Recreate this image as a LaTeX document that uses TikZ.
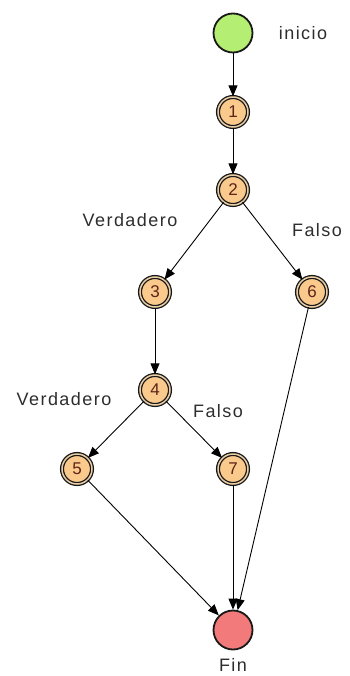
\documentclass[tikz,border=0pt]{standalone}
\usepackage{fontspec}
\setmainfont{Liberation Sans}
\newfontfamily\lblfont[LetterSpace=8]{Liberation Sans}
\usetikzlibrary{arrows.meta}

\definecolor{nodeorange}{RGB}{250,201,140}
\definecolor{ringtan}{RGB}{232,205,165}
\definecolor{startgreen}{RGB}{180,238,115}
\definecolor{endred}{RGB}{242,122,122}
\definecolor{txtgray}{RGB}{45,45,45}
\definecolor{numbrown}{RGB}{95,35,25}

\tikzset{stepnode/.style = {circle, draw=black!90, line width=1.3pt, double=ringtan, double distance=1.5pt,
                            fill=nodeorange, minimum size=30pt, inner sep=0,
                            font=\fontsize{17}{17}\selectfont, text=numbrown}}
\tikzset{termnode/.style = {circle, draw=black!90, line width=1.8pt, minimum size=39pt, inner sep=0}}
\tikzset{lbl/.style = {font=\lblfont\fontsize{18}{18}\selectfont, text=txtgray}}
\tikzset{flow/.style = {-{Triangle[length=11pt,width=9pt]}, line width=0.9pt}}

\begin{document}
\begin{tikzpicture}[x=1pt, y=-1pt]
    \useasboundingbox (0, 0) rectangle (349, 676);

    % start / end
    \node [termnode, fill=startgreen] (ini) at (233, 33) {};
    \node [termnode, fill=endred] (fin) at (233, 630) {};

    % decision steps
    \node [stepnode] (n1) at (233, 112) {1};
    \node [stepnode] (n2) at (233, 190) {2};
    \node [stepnode] (n3) at (155, 292) {3};
    \node [stepnode] (n6) at (312, 292) {6};
    \node [stepnode] (n4) at (155, 390) {4};
    \node [stepnode] (n5) at (77, 469) {5};
    \node [stepnode] (n7) at (233, 469) {7};

    \draw [flow] (ini) -- (n1);
    \draw [flow] (n1) -- (n2);
    \draw [flow] (n2) -- (n3);
    \draw [flow] (n2) -- (n6);
    \draw [flow] (n3) -- (n4);
    \draw [flow] (n4) -- (n5);
    \draw [flow] (n4) -- (n7);
    \draw [flow] (n5) -- (fin);
    \draw [flow] (n7) -- (fin);
    \draw [flow] (n6) -- (fin);

    \node [lbl] (tini) at (303, 33) {inicio};
    \node [lbl] (tv1) at (130, 220) {Verdadero};
    \node [lbl] (tf1) at (317, 230) {Falso};
    \node [lbl] (tv2) at (64, 399) {Verdadero};
    \node [lbl] (tf2) at (218, 411) {Falso};
    \node [lbl] (tfin) at (233, 665) {Fin};
  \end{tikzpicture}
\end{document}
